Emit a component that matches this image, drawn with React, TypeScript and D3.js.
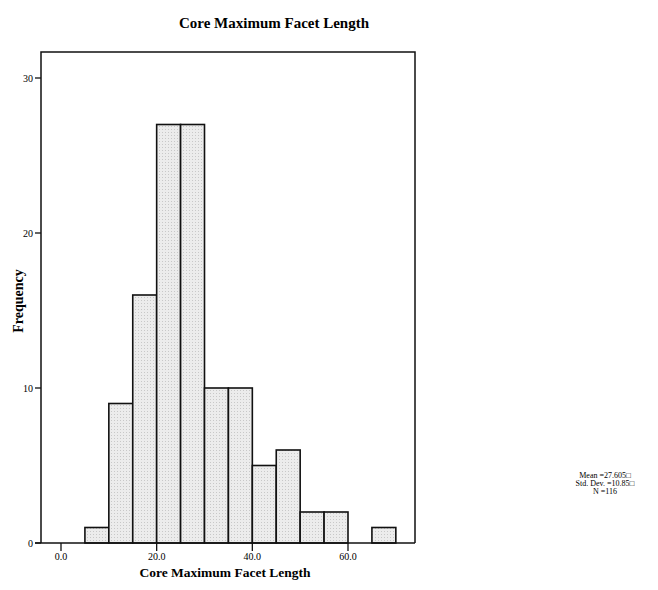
import React from "react";
import * as d3 from "d3";

const binStarts = [5, 10, 15, 20, 25, 30, 35, 40, 45, 50, 55, 60, 65];
const frequencies = [1, 9, 16, 27, 27, 10, 10, 5, 6, 2, 2, 0, 1];
const binWidth = 5;
const xTicks = [0, 20, 40, 60];
const yTicks = [0, 10, 20, 30];
const statsLines = ["Mean =27.605\u25A1", "Std. Dev. =10.85\u25A1", "N =116"];

const W = 658;
const H = 590;
const font = "'Liberation Serif', 'Times New Roman', serif";

export default function App() {
  const x = d3.scaleLinear().domain([0, 60]).range([61, 348]);
  const y = d3.scaleLinear().domain([0, 30]).range([543, 78]);
  const left = 41, right = 415, top = 52, bottom = y(0);

  return (
    <svg width={W} height={H} style={{ position: "absolute", left: 0, top: 0, background: "#fff" }}>
      <defs>
        <pattern id="stip" width="3" height="3" patternUnits="userSpaceOnUse">
          <rect width="3" height="3" fill="#ececec" />
          <rect width="1" height="1" fill="#c8c8c8" />
        </pattern>
      </defs>
      <text x={274} y={28} textAnchor="middle" fontFamily={font} fontWeight="bold" fontSize={15}>
        Core Maximum Facet Length
      </text>
      {binStarts.map((s, i) =>
        frequencies[i] > 0 ? (
          <rect
            key={i}
            x={x(s)}
            y={y(frequencies[i])}
            width={x(s + binWidth) - x(s)}
            height={bottom - y(frequencies[i])}
            fill="url(#stip)"
            stroke="#111"
            strokeWidth={1.6}
          />
        ) : null
      )}
      <path d={`M${left},${bottom}V${top}H${right}V${bottom}`} fill="none" stroke="#111" strokeWidth={1.5} />
      <line x1={left - 6} x2={right} y1={bottom} y2={bottom} stroke="#111" strokeWidth={1.6} />
      {yTicks.map((t) => (
        <g key={t}>
          <line x1={left - 6} x2={left} y1={y(t)} y2={y(t)} stroke="#111" strokeWidth={1.3} />
          <text x={left - 8} y={y(t) + 3.5} textAnchor="end" fontFamily={font} fontSize={10}>
            {t}
          </text>
        </g>
      ))}
      {xTicks.map((t) => (
        <g key={t}>
          <line x1={x(t)} x2={x(t)} y1={bottom} y2={bottom + 8} stroke="#111" strokeWidth={1.3} />
          <text x={x(t)} y={bottom + 17} textAnchor="middle" fontFamily={font} fontSize={10}>
            {t.toFixed(1)}
          </text>
        </g>
      ))}
      <text x={225} y={577} textAnchor="middle" fontFamily={font} fontWeight="bold" fontSize={13.5}>
        Core Maximum Facet Length
      </text>
      <text
        transform={`translate(23,${301}) rotate(-90)`}
        textAnchor="middle"
        fontFamily={font}
        fontWeight="bold"
        fontSize={14}
      >
        Frequency
      </text>
      {statsLines.map((s, i) => (
        <text key={i} x={605} y={478 + i * 8} textAnchor="middle" fontFamily={font} fontSize={8}>
          {s}
        </text>
      ))}
    </svg>
  );
}
